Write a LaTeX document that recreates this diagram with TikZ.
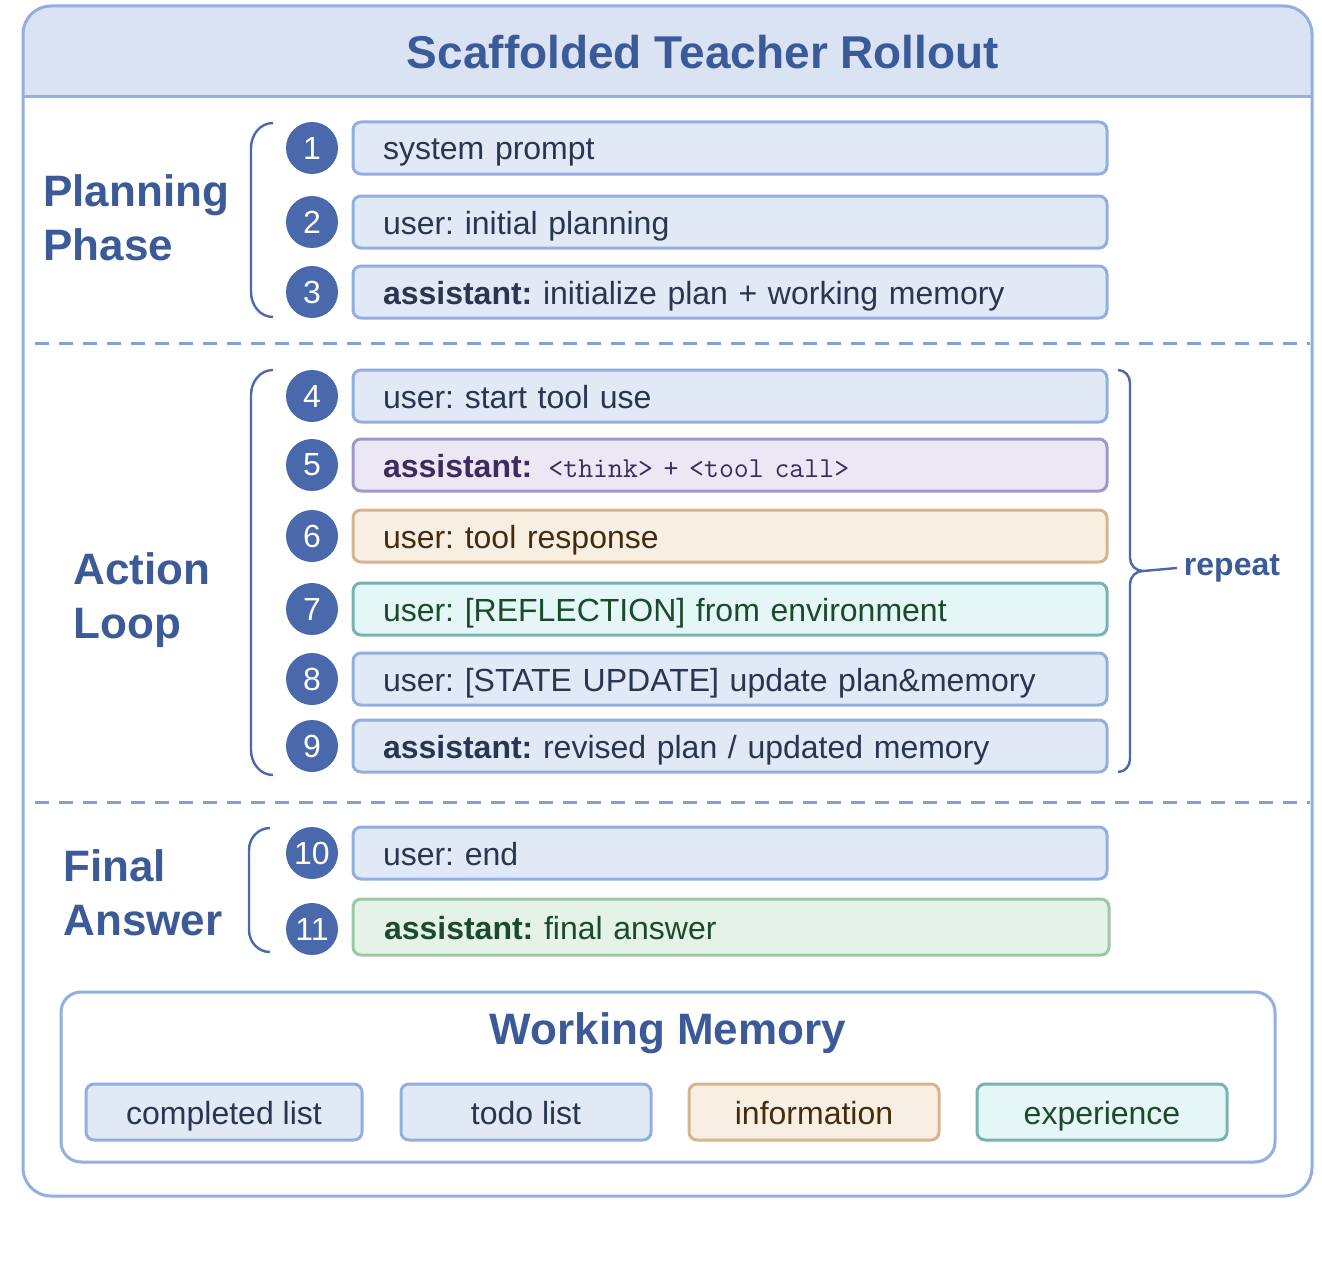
\documentclass[tikz,border=0pt]{standalone}
\usepackage{fontspec}
\setmainfont{Liberation Sans}
\frenchspacing
\usetikzlibrary{positioning, calc, decorations.pathreplacing}
\definecolor{frameblue}{HTML}{93AEE0}
\definecolor{headblue}{HTML}{DAE3F4}
\definecolor{rowblue}{HTML}{E1E8F6}
\definecolor{dotblue}{HTML}{4A68AC}
\definecolor{titleblue}{HTML}{3C5A98}
\definecolor{inkblue}{HTML}{283650}
\definecolor{thinkfill}{HTML}{EBE7F5}
\definecolor{thinkline}{HTML}{A196C8}
\definecolor{thinkink}{HTML}{3B2C5C}
\definecolor{toolfill}{HTML}{F8EFE3}
\definecolor{toolline}{HTML}{D6B48E}
\definecolor{toolink}{HTML}{462C0E}
\definecolor{reflfill}{HTML}{E4F6F5}
\definecolor{reflline}{HTML}{78B3B1}
\definecolor{reflink}{HTML}{1D4A2C}
\definecolor{ansfill}{HTML}{E5F2E7}
\definecolor{ansline}{HTML}{9DC8A4}

\tikzset{
  row/.style={draw=frameblue, fill=rowblue, text=inkblue, line width=1.5pt, rounded corners=4pt,
    minimum width=377pt, minimum height=26pt, anchor=center, align=left,
    text height=13.5pt, text depth=1.5pt,
    font=\fontsize{16}{16}\selectfont, text width=347pt},
  think/.style={row, draw=thinkline, fill=thinkfill, text=thinkink},
  tool/.style={row, draw=toolline, fill=toolfill, text=toolink},
  refl/.style={row, draw=reflline, fill=reflfill, text=reflink},
  ans/.style={row, draw=ansline, fill=ansfill, text=reflink, minimum height=28pt},
  stepdot/.style={circle, fill=dotblue, text=white, minimum size=26pt, inner sep=0pt,
    font=\fontsize{16}{16}\selectfont},
  phase/.style={text=titleblue, font=\fontsize{22}{27}\selectfont\bfseries, align=left, anchor=west, inner sep=0pt},
  bracket/.style={draw=dotblue, line width=1.2pt},
  sep/.style={draw=frameblue!80!dotblue, line width=1.5pt, dash pattern=on 7pt off 5pt},
  mem/.style={draw=frameblue, fill=rowblue, text=inkblue, line width=1.5pt, rounded corners=4pt,
    minimum width=138pt, minimum height=28pt, text height=13.5pt, text depth=1.5pt,
    font=\fontsize{16}{16}\selectfont},
}

\begin{document}
\begin{tikzpicture}[x=0.5pt, y=-0.5pt]
  \useasboundingbox (0,0) rectangle (1322,1263);

  % outer frame with header band
  \fill[headblue, rounded corners=14pt] (23,6) rectangle (1312,97);
  \fill[headblue] (23,50) rectangle (1312,97);
  \draw[frameblue, line width=1.5pt] (23,97) -- (1312,97);
  \draw[frameblue, line width=1.5pt, rounded corners=14pt] (23,6) rectangle (1312,1196);
  \node[text=titleblue, font=\fontsize{23}{23}\selectfont\bfseries] (title) at (703,52) {Scaffolded Teacher Rollout};

  % phase separators
  \draw[sep] (35,343) -- (1310,343);
  \draw[sep] (35,802) -- (1310,802);

  % message rows
  \foreach \n/\y/\s/\t in {
      1/148/row/{system prompt},
      2/222/row/{user: initial planning},
      3/292/row/{\textbf{assistant:} initialize plan + working memory},
      4/396/row/{user: start tool use},
      5/465/think/{\textbf{assistant:}\hspace{0.5em}{\ttfamily\fontsize{14.5}{14.5}\selectfont <think> + <tool call>}},
      6/536/tool/{user: tool response},
      7/609/refl/{user: [REFLECTION] from environment},
      8/679/row/{user: [STATE UPDATE] update plan\&memory},
      9/746/row/{\textbf{assistant:} revised plan / updated memory},
      10/853/row/{user: end}}{
    \node[\s] (msg\n) at (730,\y) {\t};
    \node[stepdot] (num\n) at (312,\y) {\n};
  }
  \node[ans, minimum width=378pt] (msg11) at (731,927) {\textbf{assistant:} final answer};
  \node[stepdot] (num11) at (312,929) {11};

  % phase labels and brackets
  \node[phase] (plan) at (43,218) {Planning\\Phase};
  \node[phase] (act) at (73,600) {Action\\Loop};
  \node[phase] (fin) at (63,893) {Final\\Answer};
  \draw[bracket] (273,123) to[out=180,in=90] (251,148) -- (251,292) to[out=-90,in=180] (273,317);
  \draw[bracket] (273,370) to[out=180,in=90] (251,395) -- (251,750) to[out=-90,in=180] (273,775);
  \draw[bracket] (270,828) to[out=180,in=90] (249,850) -- (249,930) to[out=-90,in=180] (270,952);

  % repeat brace
  \draw[bracket] (1118,370) to[out=0,in=90] (1130,383) -- (1130,558) to[out=-90,in=180] (1143,571)
    to[out=180,in=90] (1130,584) -- (1130,759) to[out=-90,in=0] (1118,772);
  \coordinate (tip) at (1143,571);
  \node[text=titleblue, font=\fontsize{16}{16}\selectfont\bfseries] (rep) at (1232,568) {repeat};
  \draw[bracket] (tip) -- (rep.west);

  % working memory
  \draw[frameblue, line width=1.5pt, rounded corners=10pt] (61,992) rectangle (1275,1162);
  \node[text=titleblue, font=\fontsize{22}{22}\selectfont\bfseries] (wm) at (668,1033) {Working Memory};
  \node[mem] (done) at (224,1112) {completed list};
  \node[mem, minimum width=125pt] (todo) at (526,1112) {todo list};
  \node[mem, minimum width=125pt, draw=toolline, fill=toolfill, text=toolink] (info) at (814,1112) {information};
  \node[mem, minimum width=125pt, draw=reflline, fill=reflfill, text=reflink] (exp) at (1102,1112) {experience};
\end{tikzpicture}
\end{document}
